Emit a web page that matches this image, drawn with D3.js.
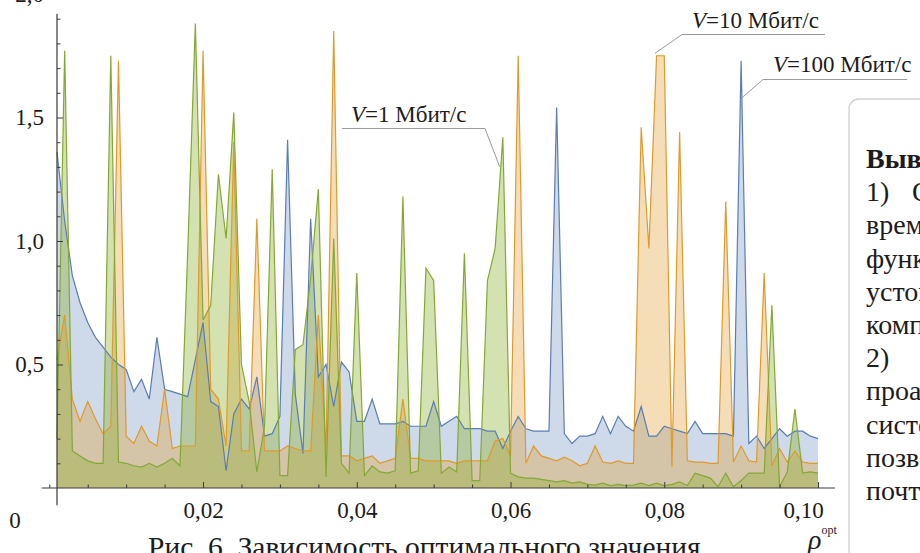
<!DOCTYPE html>
<html><head><meta charset="utf-8">
<script src="https://cdn.jsdelivr.net/npm/d3@7"></script>
<style>
html,body{margin:0;padding:0;background:#fff;}
svg{display:block;}
text{font-family:"Liberation Serif","Times New Roman",serif;fill:#1c1c1c;}
</style></head>
<body>
<svg id="chart" width="920" height="553"></svg>
<script>
// ---- data (rho = 0.001 ... 0.100) ----
const rho = d3.range(1, 101).map(i => +(i * 0.001).toFixed(3));
// V = 100 Мбит/с (blue)
const v100 = [1.36,1.08,0.86,0.75,0.67,0.61,0.57,0.53,0.50,0.48,
0.39,0.44,0.36,0.61,0.40,0.39,0.38,0.37,0.52,0.67,
0.35,0.33,0.07,0.30,0.36,0.32,0.45,0.21,0.22,0.29,
1.41,0.38,0.14,1.09,0.45,0.50,0.33,0.51,0.47,0.27,
0.27,0.36,0.26,0.26,0.26,0.27,0.25,0.25,0.25,0.35,
0.25,0.27,0.29,0.24,0.24,0.24,0.23,0.23,0.16,0.23,
0.29,0.24,0.23,0.23,0.23,1.54,0.22,0.18,0.21,0.21,
0.22,0.29,0.22,0.29,0.25,0.23,0.33,0.21,0.21,0.25,
0.24,0.23,0.22,0.27,0.22,0.22,0.22,0.22,0.21,1.73,
0.18,0.21,0.16,0.20,0.24,0.21,0.23,0.23,0.21,0.20];
// V = 10 Мбит/с (orange)
const v10 = [0.52,0.70,0.36,0.27,0.35,0.28,0.22,0.25,1.73,0.21,
0.18,0.25,0.19,0.17,0.40,0.16,0.17,0.17,0.17,1.77,
0.40,0.36,0.17,1.40,0.15,0.15,1.09,0.15,0.15,0.15,
0.17,0.16,0.15,0.15,0.70,0.15,1.85,0.13,0.13,0.11,
0.12,0.13,0.10,0.11,0.12,0.36,0.12,0.12,0.11,0.11,
0.11,0.11,0.10,0.11,0.11,0.11,0.11,0.19,0.20,0.13,
1.75,0.10,0.17,0.13,0.12,0.11,0.125,0.11,0.09,0.10,
0.17,0.105,0.10,0.11,0.10,0.10,1.46,0.97,1.75,1.75,
0.085,1.44,0.11,0.105,0.105,0.10,0.10,1.16,0.105,0.17,
0.11,0.105,0.87,0.09,0.16,0.105,0.15,0.105,0.10,0.10];
// V = 1 Мбит/с (green)
const v1 = [0.20,1.77,0.15,0.13,0.11,0.10,0.10,1.75,0.105,0.10,
0.09,0.085,0.10,0.085,0.10,0.12,0.09,0.95,1.88,0.68,
0.74,1.27,1.01,1.52,0.50,0.35,0.065,0.25,1.29,0.05,
0.05,0.56,0.58,0.85,1.21,0.045,1.01,0.10,0.06,0.87,
0.05,0.09,0.065,0.06,0.07,1.18,0.06,0.07,0.89,0.84,
0.06,0.085,0.065,0.95,0.03,0.03,0.84,0.97,1.42,0.06,
0.045,0.04,0.04,0.035,0.03,0.025,0.03,0.02,0.025,0.015,
0.012,0.02,0.01,0.015,0.01,0.012,0.02,0.01,0.02,0.01,
0.015,0.025,0.01,0.06,0.05,0.04,0.005,0.06,0.005,0.03,
0.06,0.06,0.06,0.74,0.005,0.065,0.32,0.06,0.065,0.06];

const xTickValues = [0.02, 0.04, 0.06, 0.08, 0.10];
const xTickLabels = ["0,02", "0,04", "0,06", "0,08", "0,10"];
const yTickValues = [0.5, 1.0, 1.5, 2.0];
const yTickLabels = ["0,5", "1,0", "1,5", "2,0"];
const seriesNames = ["V=100 Мбит/с", "V=10 Мбит/с", "V=1 Мбит/с"];
// annotation anchors (data coords of the pointed spot)
const annoAnchors = [[0.0901, 1.58], [0.0788, 1.76], [0.0586, 1.30]];

const caption = "Рис. 6. Зависимость оптимального значения";
const sideLines = ["1)", "время", "функционирования", "устойчивости", "компьютерной", "2)", "проактивного", "системы", "позволяет", "почти"];

// ---- drawing ----
const svg = d3.select("#chart");
const x = d3.scaleLinear().domain([0, 0.1]).range([49.3, 818]);
const y = d3.scaleLinear().domain([0, 2]).range([488, -6]);

const series = [
  {vals: v100, line: "#5a7db3", fill: "#5e81b5", op: 0.30},
  {vals: v10,  line: "#e09a2a", fill: "#e19c24", op: 0.33},
  {vals: v1,   line: "#84a834", fill: "#8fb032", op: 0.38}
];

const area = d3.area().x((d, i) => x(rho[i])).y0(y(0)).y1(d => y(d));
const line = d3.line().x((d, i) => x(rho[i])).y(d => y(d));

const gPlot = svg.append("g");
series.forEach(s => {
  gPlot.append("path").attr("d", area(s.vals)).attr("fill", s.fill).attr("fill-opacity", s.op).attr("stroke", "none");
});
series.forEach(s => {
  gPlot.append("path").attr("d", line(s.vals)).attr("fill", "none").attr("stroke", s.line).attr("stroke-width", 1.2).attr("stroke-linejoin", "miter");
});

// axes lines
const axisColor = "#3a3a3a";
svg.append("line").attr("x1", x(-0.001)).attr("x2", x(0.1022)).attr("y1", y(0)).attr("y2", y(0))
  .attr("stroke", axisColor).attr("stroke-width", 1.2);
svg.append("line").attr("x1", x(0.001)).attr("x2", x(0.001)).attr("y1", y(1.92)).attr("y2", y(-0.07))
  .attr("stroke", axisColor).attr("stroke-width", 1.2);

// x axis major
const xAxis = svg.append("g").attr("transform", `translate(0,${y(0)})`)
  .call(d3.axisBottom(x).tickValues(xTickValues).tickSize(-6).tickPadding(14)
    .tickFormat((d, i) => xTickLabels[i]));
xAxis.select(".domain").remove();
xAxis.selectAll("line").attr("stroke", axisColor);
xAxis.selectAll("text").attr("font-size", 23).attr("font-family", "Liberation Serif").attr("fill", "#1c1c1c")
  .attr("dx", (d, i) => i === xTickValues.length - 1 ? -15 : 0);
// x axis minor
const xMinor = d3.range(0, 21).map(k => +(k * 0.005).toFixed(3)).filter(v => !xTickValues.some(t => Math.abs(t - v) < 1e-9));
const xAxisMin = svg.append("g").attr("transform", `translate(0,${y(0)})`)
  .call(d3.axisBottom(x).tickValues(xMinor).tickSize(-3.5).tickFormat(""));
xAxisMin.select(".domain").remove();
xAxisMin.selectAll("line").attr("stroke", axisColor);

// y axis major
const yAxis = svg.append("g").attr("transform", `translate(${x(0.001)},0)`)
  .call(d3.axisLeft(y).tickValues(yTickValues).tickSize(-6).tickPadding(13)
    .tickFormat((d, i) => yTickLabels[i]));
yAxis.select(".domain").remove();
yAxis.selectAll("line").attr("stroke", axisColor);
yAxis.selectAll("text").attr("font-size", 23).attr("font-family", "Liberation Serif").attr("fill", "#1c1c1c");
const yMinor = d3.range(1, 20).map(k => +(k * 0.1).toFixed(1)).filter(v => !yTickValues.some(t => Math.abs(t - v) < 1e-9));
const yAxisMin = svg.append("g").attr("transform", `translate(${x(0.001)},0)`)
  .call(d3.axisLeft(y).tickValues(yMinor).tickSize(-3.5).tickFormat(""));
yAxisMin.select(".domain").remove();
yAxisMin.selectAll("line").attr("stroke", axisColor);

// origin "0"
svg.append("text").attr("x", 15).attr("y", y(0) + 40).attr("text-anchor", "middle").attr("font-size", 23).text("0");

// annotations
const annoText = [
  {tx: 773, ty: 72, hx1: 763, hx2: 907, hy: 79.5, fromLeft: true},
  {tx: 692, ty: 28, hx1: 682, hx2: 825, hy: 34.5, fromLeft: true},
  {tx: 351, ty: 121.5, hx1: 342, hx2: 485, hy: 128.5, fromLeft: false}
];
annoText.forEach((a, i) => {
  const [ax, ay] = annoAnchors[i];
  const sx = a.fromLeft ? a.hx1 : a.hx2;
  svg.append("polyline")
    .attr("points", `${a.hx2},${a.hy} ${a.hx1},${a.hy} ` + (a.fromLeft ? `${x(ax)},${y(ay)}` : ""))
    .attr("fill", "none").attr("stroke", "#9a9a9a").attr("stroke-width", 1);
  if (!a.fromLeft) {
    svg.append("line").attr("x1", sx).attr("y1", a.hy).attr("x2", x(ax)).attr("y2", y(ay))
      .attr("stroke", "#9a9a9a").attr("stroke-width", 1);
  }
  const parts = seriesNames[i].split("=");
  const t = svg.append("text").attr("x", a.tx).attr("y", a.ty).attr("font-size", 23);
  t.append("tspan").attr("font-style", "italic").text(parts[0]);
  t.append("tspan").text("=" + parts[1]);
});

// caption + rho label
svg.append("text").attr("x", 148).attr("y", 557).attr("font-size", 29.5).text(caption);
const rl = svg.append("text").attr("x", 808).attr("y", 549).attr("font-size", 28).attr("font-style", "italic");
rl.append("tspan").text("ρ");
rl.append("tspan").attr("font-size", 12).attr("dy", -15).attr("font-style", "normal").text("opt");

// right-side text box
svg.append("rect").attr("x", 849).attr("y", 99).attr("width", 200).attr("height", 600).attr("rx", 10)
  .attr("fill", "#fff").attr("stroke", "#cfcfcf").attr("stroke-width", 1.3);
svg.append("text").attr("x", 866).attr("y", 168).attr("font-size", 28).attr("font-weight", "bold").text("Выводы:");
sideLines.forEach((s, i) => {
  svg.append("text").attr("x", 866).attr("y", 168 + (i + 1) * 33.2).attr("font-size", 28).text(s);
});
svg.append("text").attr("x", 912).attr("y", 168 + 33.2).attr("font-size", 28).text("Оценка");
</script>
</body></html>
